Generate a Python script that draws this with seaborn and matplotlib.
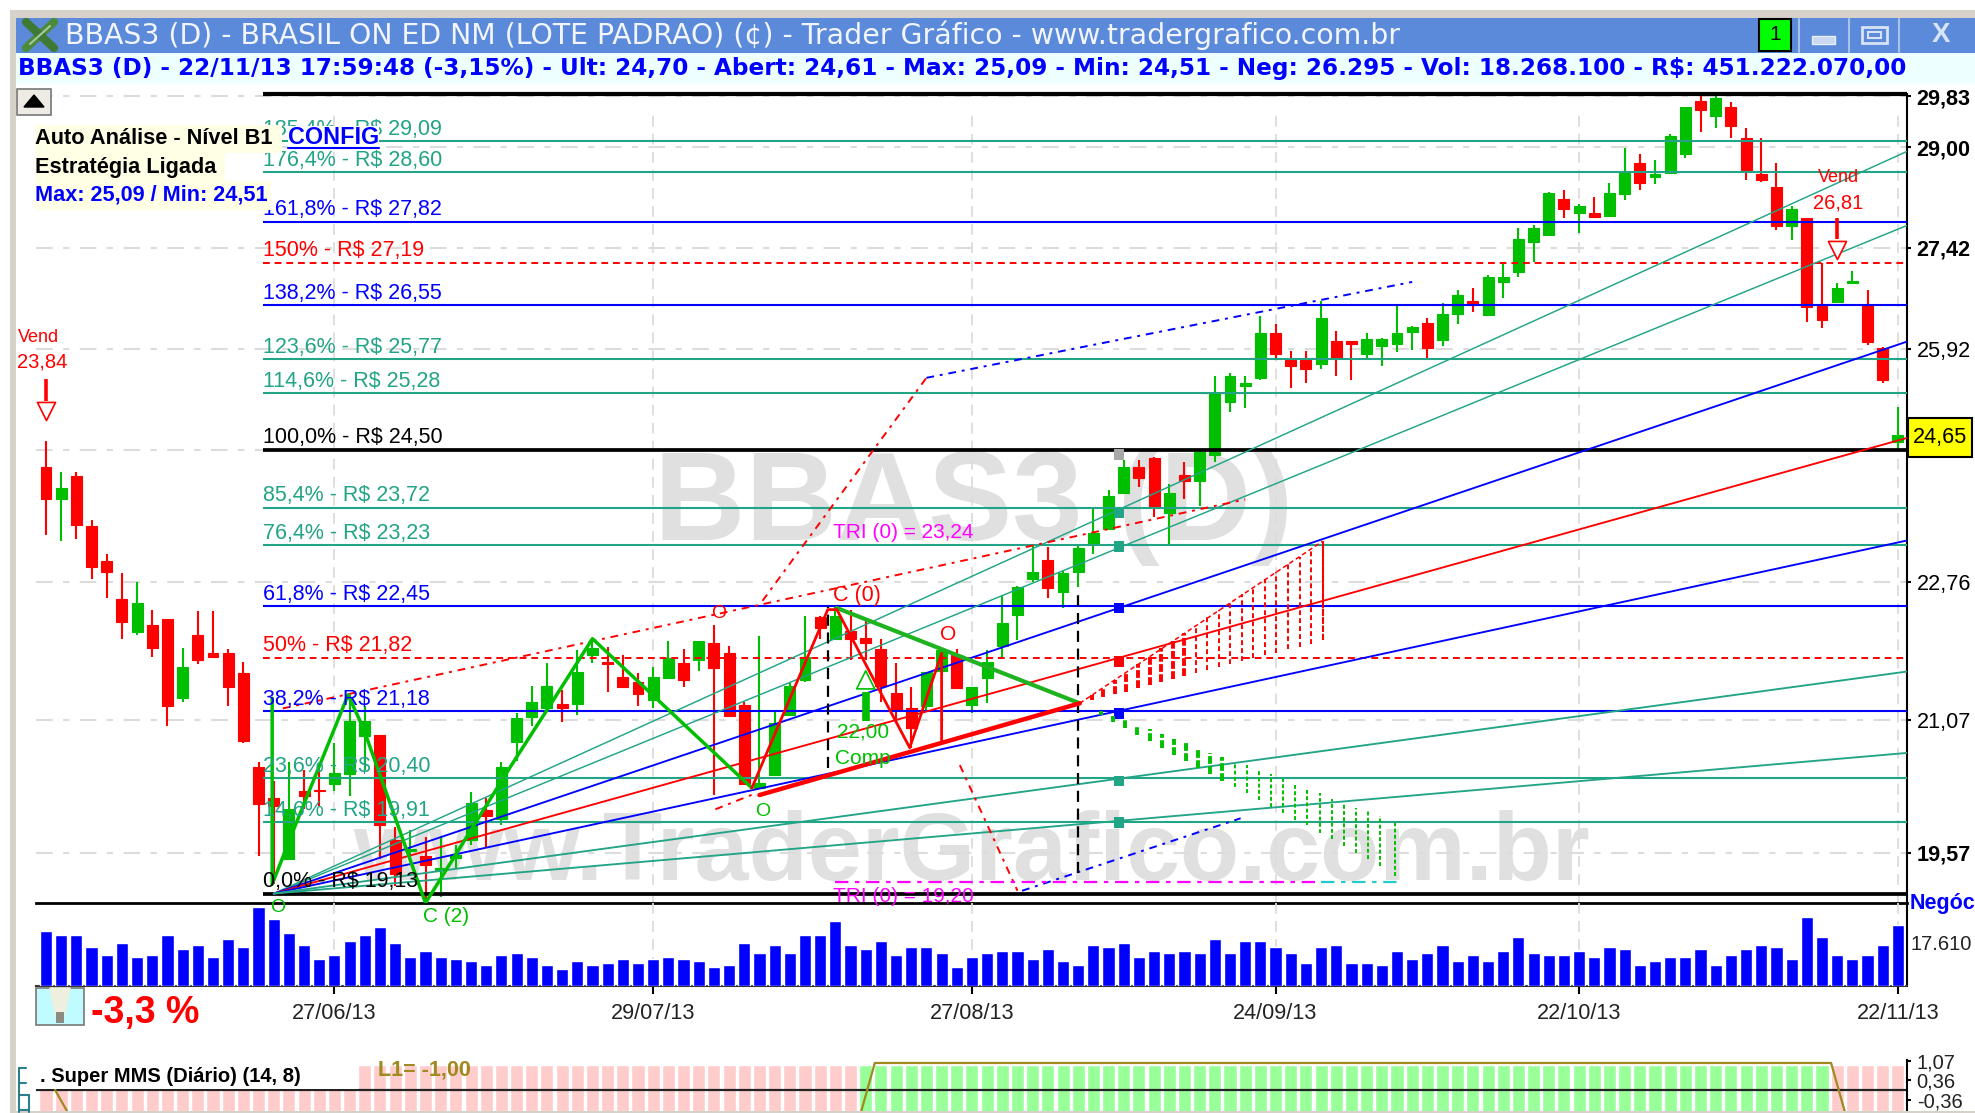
import seaborn as sns
import matplotlib.pyplot as plt
from matplotlib.patches import Rectangle
from matplotlib.ticker import NullLocator
from matplotlib.transforms import Affine2D

W, H = 1975, 1113

opens = [24.27, 23.83, 24.14, 23.48, 23.02, 22.54, 22.13, 22.22, 22.29, 21.33, 22.09, 21.87, 21.87, 21.63, 20.53, 20.18,
         19.50, 20.26, 20.27, 20.34, 20.45, 20.89, 20.90, 19.71, 19.59, 19.54, 19.38, 19.51, 19.71, 20.04, 19.94, 20.82,
         21.11, 21.21, 21.26, 21.26, 21.85, 21.77, 21.58, 21.53, 21.31, 21.57, 21.75, 21.79, 22.00, 21.87, 21.25, 20.29,
         20.44, 21.13, 21.55, 22.32, 22.05, 22.14, 22.06, 21.92, 21.39, 21.22, 21.24, 21.66, 21.85, 21.25, 21.57, 21.96,
         22.34, 22.79, 23.04, 22.63, 22.89, 23.25, 23.44, 23.91, 24.27, 24.39, 23.65, 24.16, 24.07, 24.42, 25.16, 25.38,
         25.50, 26.15, 25.76, 25.76, 25.70, 26.03, 26.03, 25.84, 25.96, 25.99, 26.16, 26.29, 26.05, 26.43, 26.62, 26.41,
         26.90, 27.05, 27.50, 27.61, 28.18, 27.95, 27.95, 27.90, 28.25, 28.74, 28.52, 28.58, 28.89, 29.76, 29.50, 29.65,
         29.15, 28.57, 28.36, 27.75, 27.87, 26.54, 26.60, 26.88, 26.54, 25.93, 24.61]
highs = [24.62, 24.19, 24.19, 23.56, 23.12, 22.87, 22.76, 22.41, 22.29, 21.94, 22.39, 22.39, 21.92, 21.77, 20.58, 20.37,
         20.58, 20.49, 20.50, 20.81, 21.37, 21.24, 20.90, 19.85, 19.82, 19.74, 19.75, 19.66, 20.24, 20.18, 20.58, 21.15,
         21.48, 21.75, 21.43, 21.91, 22.05, 21.95, 21.85, 21.63, 21.70, 22.02, 21.92, 22.02, 22.22, 21.96, 21.29, 22.08,
         21.19, 21.51, 22.33, 22.33, 22.45, 22.40, 22.28, 22.05, 21.75, 21.47, 21.65, 21.93, 21.92, 21.47, 21.91, 22.58,
         22.71, 23.22, 23.21, 22.90, 23.22, 23.70, 23.95, 24.36, 24.36, 24.40, 24.03, 24.33, 24.50, 25.52, 25.57, 25.52,
         26.40, 26.28, 25.89, 25.89, 26.62, 26.18, 26.03, 26.15, 26.07, 26.54, 26.25, 26.37, 26.59, 26.78, 26.81, 27.01,
         27.19, 27.72, 27.76, 28.28, 28.31, 28.09, 28.20, 28.42, 28.98, 28.89, 28.79, 29.21, 29.66, 29.83, 29.83, 29.73,
         29.31, 29.15, 28.74, 28.07, 27.87, 27.19, 26.88, 27.06, 26.78, 25.94, 25.09]
lows = [23.36, 23.28, 23.31, 22.80, 22.55, 22.05, 22.09, 21.83, 21.00, 21.28, 21.74, 21.83, 21.24, 20.81, 19.54, 19.23,
        19.49, 20.05, 20.09, 20.26, 20.20, 20.49, 19.50, 19.21, 19.50, 19.07, 19.09, 19.41, 19.65, 19.63, 19.87, 20.60,
        21.00, 21.19, 21.05, 21.13, 21.75, 21.41, 21.47, 21.24, 21.21, 21.56, 21.47, 21.66, 20.21, 21.12, 20.33, 20.29,
        20.44, 21.13, 21.53, 22.05, 22.03, 21.79, 21.79, 21.29, 21.04, 20.75, 21.18, 21.65, 21.45, 21.15, 21.27, 21.81,
        22.03, 22.76, 22.55, 22.43, 22.70, 23.12, 23.43, 23.91, 23.99, 23.60, 23.25, 23.83, 23.74, 24.33, 25.02, 25.08,
        25.47, 25.79, 25.36, 25.42, 25.62, 25.53, 25.47, 25.79, 25.67, 25.87, 25.90, 25.79, 25.96, 26.28, 26.46, 26.40,
        26.66, 26.98, 27.20, 27.60, 27.87, 27.64, 27.89, 27.89, 28.15, 28.31, 28.41, 28.58, 28.82, 29.24, 29.31, 29.15,
        28.47, 28.44, 27.69, 27.53, 26.30, 26.22, 26.60, 26.87, 25.97, 25.42, 24.51]
closes = [23.83, 23.98, 23.49, 22.95, 22.88, 22.25, 22.49, 21.93, 21.24, 21.70, 21.79, 21.83, 21.47, 20.83, 20.11, 20.09,
          20.05, 20.20, 20.25, 20.46, 21.06, 21.06, 19.87, 19.34, 19.61, 19.44, 19.41, 19.55, 20.12, 19.98, 20.53, 21.10,
          21.29, 21.48, 21.21, 21.65, 21.93, 21.74, 21.47, 21.38, 21.58, 21.82, 21.55, 22.02, 21.69, 21.12, 20.33, 20.35,
          21.04, 21.48, 21.83, 22.18, 22.33, 22.05, 22.00, 21.48, 21.19, 20.98, 21.64, 21.91, 21.45, 21.46, 21.77, 22.24,
          22.70, 22.89, 22.68, 22.87, 23.19, 23.39, 23.87, 24.27, 24.12, 23.73, 23.92, 24.07, 24.47, 25.28, 25.52, 25.43,
          26.15, 25.84, 25.67, 25.62, 26.37, 25.79, 25.99, 26.06, 26.06, 26.15, 26.24, 25.93, 26.43, 26.71, 26.56, 26.98,
          26.98, 27.55, 27.72, 28.26, 28.01, 28.07, 27.89, 28.26, 28.58, 28.43, 28.57, 29.18, 29.65, 29.60, 29.81, 29.34,
          28.63, 28.47, 27.75, 28.01, 26.52, 26.34, 26.81, 26.91, 26.02, 25.47, 24.70]
negocios = [23710, 21990, 21990, 16960, 13360, 18680, 12650, 13360, 21990, 15950, 17680, 12650, 20260, 16960, 34200,
            28880, 22990, 17680, 11640, 13360, 19540, 21990, 25580, 18680, 12650, 15090, 12650, 11640, 10920, 9050,
            13360, 14370, 12650, 9050, 7330, 10920, 9050, 10060, 11640, 10060, 11640, 12650, 11640, 10920, 8330, 9050,
            18680, 14370, 17820, 14370, 22130, 22130, 28170, 17820, 15950, 19540, 13360, 16960, 16960, 14370, 8330,
            12650, 14370, 15230, 15230, 11640, 15950, 10920, 9050, 17820, 16960, 18680, 12650, 15230, 14370, 15230,
            14370, 20260, 14370, 19540, 19540, 16960, 14370, 10060, 16960, 17680, 10060, 10060, 9050, 15230, 11640,
            14370, 17680, 10920, 13360, 10920, 15230, 21270, 14370, 13360, 13360, 15230, 12650, 16960, 15950, 9050,
            10920, 12650, 12650, 15950, 9050, 13360, 15950, 17680, 16960, 11640, 29890, 21270, 13360, 11640, 13360,
            17680, 26295]
bar_index = list(range(len(closes)))

date_index = [19, 40, 61, 81, 101, 122]
date_labels = ['27/06/13', '29/07/13', '27/08/13', '24/09/13', '22/10/13', '22/11/13']
axis_prices = [29.83, 29.00, 27.42, 25.92, 22.76, 21.07, 19.57]
axis_labels = ['29,83', '29,00', '27,42', '25,92', '22,76', '21,07', '19,57']
axis_bold = [True, True, True, False, False, False, True]

level_prices = [29.09, 28.60, 27.82, 27.19, 26.55, 25.77, 25.28, 24.50, 23.72, 23.23, 22.45, 21.82, 21.18, 20.40, 19.91, 19.13]
level_pcts = ['185,4%', '176,4%', '161,8%', '150%', '138,2%', '123,6%', '114,6%', '100,0%', '85,4%', '76,4%', '61,8%',
              '50%', '38,2%', '23,6%', '14,6%', '0,0%']
level_kinds = ['t', 't', 'b', 'r', 'b', 't', 't', 'k', 't', 't', 'b', 'r', 'b', 't', 't', 'k']

fan_ends = [28.93, 27.76, 26.02, 24.66, 23.29, 21.65, 20.69]
fan_kinds = ['t', 't', 'b', 'r', 'b', 't', 't']
marker_prices = [24.43, 23.66, 23.21, 22.43, 21.77, 21.15, 20.37, 19.90]
marker_kinds = ['g', 't', 't', 'b', 'r', 'b', 't', 't']

zig_x = [14.9, 14.9, 16.3, 19.9, 20.9, 25.0, 30.7, 33.0, 36.0, 46.5]
zig_y = [21.33, 19.23, 19.82, 21.37, 20.98, 19.03, 20.56, 21.19, 22.05, 20.29]
zag_x = [46.5, 51.5, 52.1, 56.9, 59.0, 59.0]
zag_y = [20.29, 22.41, 22.41, 20.75, 21.87, 20.81]
target_x = [52.1, 68.1]
target_y = [22.43, 21.27]
support_x = [47.0, 68.1]
support_y = [20.21, 21.27]

channel_x = [15.6, 79.0]
channel_y = [21.21, 23.83]
tri_up_x = [47.2, 58.0]
tri_up_y = [22.52, 25.50]
tri_blue_x = [58.0, 90.0]
tri_blue_y = [25.50, 26.90]
tri_down_x = [60.2, 64.0]
tri_down_y = [20.55, 19.16]
tri_low_x = [64.3, 78.7]
tri_low_y = [19.16, 19.95]
tri_tail_x = [44.1, 46.6]
tri_tail_y = [20.05, 20.22]
tri_level_x = [52.0, 84.0]
tri_level_y = [19.25, 19.25]
tri_end_x = [84.0, 89.1]

red_cone_x = [68.9, 69.66, 70.42, 71.18, 71.94, 72.7, 73.46, 74.22, 74.98, 75.74, 76.5, 77.26, 78.02, 78.78, 79.54,
              80.3, 81.06, 81.82, 82.58, 83.34, 84.1]
red_cone_top = [21.37, 21.46, 21.55, 21.64, 21.74, 21.83, 21.93, 22.02, 22.12, 22.22, 22.32, 22.40, 22.50, 22.60, 22.69,
                22.79, 22.89, 22.99, 23.08, 23.18, 23.28]
red_cone_low = [21.31, 21.34, 21.38, 21.41, 21.45, 21.49, 21.52, 21.56, 21.60, 21.63, 21.67, 21.71, 21.74, 21.78, 21.81,
                21.85, 21.88, 21.92, 21.95, 21.99, 22.03]
green_cone_x = [69.5, 70.3, 71.1, 71.9, 72.7, 73.5, 74.3, 75.1, 75.9, 76.7, 77.5, 78.3, 79.1, 79.9, 80.7, 81.5, 82.3,
                83.1, 83.9, 84.7, 85.5, 86.3, 87.1, 87.9, 88.9]
green_cone_top = [21.18, 21.12, 21.07, 21.02, 20.97, 20.91, 20.85, 20.81, 20.75, 20.69, 20.64, 20.59, 20.55, 20.49, 20.45,
                  20.39, 20.33, 20.29, 20.23, 20.17, 20.12, 20.07, 20.03, 19.97, 19.90]
green_cone_low = [21.13, 21.05, 20.98, 20.90, 20.83, 20.75, 20.67, 20.60, 20.52, 20.45, 20.37, 20.30, 20.23, 20.15, 20.08,
                  20.01, 19.93, 19.87, 19.79, 19.72, 19.64, 19.57, 19.50, 19.43, 19.32]

mms = [0] + [-1] * 53 + [1] * 64 + [-1] * 5

RED = '#FF0000'
GREEN = '#00BF00'
BLUE = '#0000FF'
TEAL = '#22A487'
kind_color = {'t': TEAL, 'b': BLUE, 'r': RED, 'k': 'black', 'g': '#A8A8A8'}

sns.set_theme(style='white')
plt.rcParams['font.family'] = ['Liberation Sans', 'DejaVu Sans']
plt.rcParams['axes.linewidth'] = 1.5

fig = plt.figure(figsize=(W / 100, H / 100), dpi=100, facecolor='white')
# chrome is placed in screen pixels with y going down
screen = Affine2D().scale(1, -1).translate(0, H)


def box(x0, y0, x1, y1, color, edge='none', lw=0, zorder=1):
    fig.add_artist(Rectangle((x0, y0), x1 - x0, y1 - y0, transform=screen, facecolor=color,
                             edgecolor=edge, linewidth=lw, zorder=zorder))


def label(x, y, s, color='black', size=15, zorder=20, **kw):
    kw.setdefault('va', 'center')
    kw.setdefault('ha', 'left')
    fig.text(x, y, s, transform=screen, color=color, fontsize=size, zorder=zorder, **kw)


def line(xs, ys, color, lw, zorder=21, **kw):
    fig.add_artist(plt.Line2D(xs, ys, transform=screen, color=color, linewidth=lw, zorder=zorder, **kw))


def pixel_axes(left, top, right, bottom):
    a = fig.add_axes([left / W, 1 - bottom / H, (right - left) / W, (bottom - top) / H])
    a.patch.set_visible(False)
    a.set_xlim(-0.66, 122.6)
    return a


# window frame and header bars
box(10, 10, W, 18, '#D6D2CA')
box(10, 10, 16, H, '#D6D2CA')
box(16, 18, W, 53, '#5B8ADB')
box(16, 53, W, 84, '#EEFFFF')
box(10, 1111, W, H, '#D6D2CA')
label(65, 35, 'BBAS3 (D) - BRASIL ON ED NM (LOTE PADRAO) (¢) - Trader Gráfico - www.tradergrafico.com.br',
      color='#F2F5FB', size=20.45, family='DejaVu Sans')
label(18, 68, 'BBAS3 (D) - 22/11/13 17:59:48 (-3,15%) - Ult: 24,70 - Abert: 24,61 - Max: 25,09 - Min: 24,51 - '
      'Neg: 26.295 - Vol: 18.268.100 - R$: 451.222.070,00', color=BLUE, size=16.67, weight='bold', family='DejaVu Sans')
line([26, 54], [48, 22], '#4C8A3C', 6)
line([26, 54], [22, 48], '#3E7A34', 6)
line([30, 50], [44, 26], '#A8C8A0', 1.5)
box(1759, 19, 1791, 51, '#00FF00', edge='black', lw=1.5, zorder=21)
label(1775, 34, '1', size=15, ha='center', zorder=22)
for xd in [1799, 1849, 1899]:
    line([xd, xd], [19, 52], '#A9C2EC', 1.5)
box(1812, 36, 1835, 44, '#C9D8F2', edge='#EAF0FB', lw=1, zorder=21)
box(1862, 27, 1887, 43, 'none', edge='#D8E3F6', lw=2, zorder=21)
box(1868, 32, 1881, 38, 'none', edge='#D8E3F6', lw=1.5, zorder=21)
label(1941, 35, 'X', color='#D8E3F6', size=20, ha='center', weight='bold')

# watermarks stay behind all the axes
label(654, 507, 'BBAS3 (D)', color='#E0E0E0', size=91, weight='bold', zorder=-1)
label(353, 855, 'www.TraderGrafico.com.br', color='#E0E0E0', size=69.8, weight='bold', zorder=-1)

# price panel
ax = pixel_axes(36, 94, 1907, 903)
ax.set_yscale('log')
ax.set_ylim(19.03, 29.87)
ax.set_xlim(-0.66, 122.6)
for side in ['top', 'left']:
    ax.spines[side].set_visible(False)
ax.spines['right'].set_color('black')
ax.spines['bottom'].set_color('black')
ax.spines['bottom'].set_linewidth(2)
ax.yaxis.tick_right()
ax.set_yticks(axis_prices, axis_labels)
ax.yaxis.set_minor_locator(NullLocator())
ax.tick_params(axis='y', length=3, width=1.5, color='black', pad=4, right=True)
ax.set_xticks([])
for tick, bold in zip(ax.get_yticklabels(), axis_bold):
    tick.set_fontsize(15.6)
    tick.set_fontweight('bold' if bold else 'normal')
    tick.set_color('black')

grid_dash = (0, (8, 5, 3, 5))
ax.hlines(axis_prices + [24.50], -0.66, 122.6, color='#DCDCDC', lw=1.5, linestyles=[grid_dash], zorder=1)
ax.vlines(date_index, 19.03, 29.55, color='#DCDCDC', lw=1.3, linestyles=[(0, (6, 4))], zorder=1)

# fibonacci levels
lvl_left = 14.3
ax.hlines(29.87, lvl_left, 122.6, color='black', lw=3, zorder=3, clip_on=False)
for price, pct, kind in zip(level_prices, level_pcts, level_kinds):
    c = kind_color[kind]
    if kind == 'r':
        ax.hlines(price, lvl_left, 122.6, color=c, lw=1.4, linestyles=[(0, (3.5, 2.5))], zorder=3)
    elif kind == 'k':
        ax.hlines(price, lvl_left, 122.6, color=c, lw=2.7, zorder=3)
    else:
        ax.hlines(price, lvl_left, 122.6, color=c, lw=1.5, zorder=3)
    ax.annotate('%s - R$ %s' % (pct, ('%.2f' % price).replace('.', ',')), (lvl_left, price), xytext=(0, 4.5),
                textcoords='offset points', color=c, fontsize=15.5, va='baseline', zorder=7)

# candles
colors = [GREEN if c > o else RED for o, c in zip(opens, closes)]
ax.vlines(bar_index, lows, highs, color=colors, lw=1.5, zorder=2)
bottoms = [min(o, c) for o, c in zip(opens, closes)]
heights = [abs(c - o) for o, c in zip(opens, closes)]
ax.bar(bar_index, heights, bottom=bottoms, width=0.72, color=colors, edgecolor=colors, linewidth=0.8, zorder=2)

# fan from the 0% corner
for end, kind, thin in zip(fan_ends, fan_kinds, [True, True, False, False, False, False, False]):
    sns.lineplot(x=[15, 122.6], y=[19.13, end], color=kind_color[kind], lw=1.05 if thin else 1.35, ax=ax,
                 estimator=None, sort=False, zorder=4)
ax.scatter([70.7] * len(marker_prices), marker_prices, marker='s', s=58, linewidths=0,
           color=[kind_color[k] for k in marker_kinds], zorder=5)

# dashed red and blue triangle guides
red_dash = (0, (4, 3, 1.5, 3))
for xs, ys, c in [(channel_x, channel_y, RED), (tri_up_x, tri_up_y, RED), (tri_down_x, tri_down_y, RED),
                  (tri_tail_x, tri_tail_y, RED), (tri_blue_x, tri_blue_y, BLUE), (tri_low_x, tri_low_y, BLUE)]:
    ax.plot(xs, ys, color=c, lw=1.4, ls=red_dash, zorder=4)
ax.plot(tri_level_x, tri_level_y, color='#FF00FF', lw=1.6, ls=(0, (6, 3, 2, 3)), zorder=4)
ax.plot(tri_end_x, tri_level_y, color='#22CCCC', lw=1.6, ls=(0, (6, 3, 2, 3)), zorder=4)
ax.vlines(51.5, 20.52, 22.45, color='black', lw=1.6, linestyles=[(0, (5, 3))], zorder=5)
ax.vlines(68, 19.35, 22.62, color='black', lw=1.6, linestyles=[(0, (5, 3))], zorder=5)

# projection cones
ax.vlines(red_cone_x[:9], red_cone_low[:9], red_cone_top[:9], color=RED, lw=2.8, linestyles=[(0, (2, 0.6))], zorder=5)
ax.vlines(red_cone_x[9:], red_cone_low[9:], red_cone_top[9:], color=RED, lw=1.4, linestyles=[(0, (2.5, 1.6))], zorder=5)
ax.plot([68.1, 84.1], [21.27, 23.28], color=RED, lw=1.1, ls=(0, (3, 2)), zorder=5)
ax.plot([84.1, 84.1], [22.03, 23.28], color=RED, lw=1.5, ls=(0, (3, 1)), zorder=5)
ax.vlines(green_cone_x[:11], green_cone_low[:11], green_cone_top[:11], color=GREEN, lw=2.8, linestyles=[(0, (2, 0.6))], zorder=5)
ax.vlines(green_cone_x[11:], green_cone_low[11:], green_cone_top[11:], color=GREEN, lw=1.4, linestyles=[(0, (2, 1.2))], zorder=5)

# zigzags
sns.lineplot(x=zig_x, y=zig_y, color=GREEN, lw=2.5, ax=ax, estimator=None, sort=False, zorder=6)
sns.lineplot(x=target_x, y=target_y, color='#1FB31F', lw=3, ax=ax, estimator=None, sort=False, zorder=6)
sns.lineplot(x=zag_x, y=zag_y, color=RED, lw=2, ax=ax, estimator=None, sort=False, zorder=6)
sns.lineplot(x=support_x, y=support_y, color=RED, lw=3.2, ax=ax, estimator=None, sort=False, zorder=6)
ax.set_xlim(-0.66, 122.6)
ax.set_ylim(19.03, 29.87)
ax.set_xlabel('')
ax.set_ylabel('')

# buy and sell arrows
ax.vlines(0, 25.17, 25.49, color=RED, lw=2.6, zorder=6)
ax.scatter([0], [25.03], marker='v', s=170, facecolor='white', edgecolor=RED, linewidths=1.2, zorder=6)
ax.vlines(118, 27.55, 27.87, color=RED, lw=2.6, zorder=6)
ax.scatter([118], [27.39], marker='v', s=170, facecolor='white', edgecolor=RED, linewidths=1.2, zorder=6)
ax.vlines(54, 21.06, 21.40, color=GREEN, lw=5.5, zorder=6)
ax.scatter([54], [21.55], marker='^', s=170, facecolor='none', edgecolor=GREEN, linewidths=1.2, zorder=6)

# labels on the price panel
label(18, 338, 'Vend', RED, 13)
label(17, 362, '23,84', RED, 14.5)
label(1838, 178, 'Vend', RED, 13, ha='center')
label(1838, 203, '26,81', RED, 14.5, ha='center')
label(833, 532, 'TRI (0) = 23,24', '#FF00FF', 15)
label(833, 897, 'TRI (0) = 19,20', '#FF00FF', 15)
label(278, 907, 'O', GREEN, 14, ha='center')
label(446, 917, 'C (2)', GREEN, 15, ha='center')
label(857, 595, 'C (0)', RED, 15.5, ha='center')
label(719, 613, 'O', RED, 14, ha='center')
label(763, 811, 'O', GREEN, 14, ha='center')
label(948, 634, 'O', RED, 15, ha='center')
label(863, 732, '22,00', GREEN, 15, ha='center')
label(863, 758, 'Comp', GREEN, 15, ha='center')

# auto analysis box and button
box(35, 125, 282, 153, '#FFFFE6', zorder=9)
box(35, 153, 225, 181, '#FFFFE6', zorder=9)
box(35, 181, 271, 210, '#FFFFE6', zorder=9)
label(35, 139, 'Auto Análise - Nível B1', size=15.7, weight='bold')
label(35, 167, 'Estratégia Ligada', size=15.7, weight='bold')
label(35, 195, 'Max: 25,09 / Min: 24,51', BLUE, 15.6, weight='bold')
box(288, 126, 379, 149, 'white', zorder=9)
label(288, 137, 'CONFIG', BLUE, 16.8, weight='bold')
line([288, 379], [148, 148], BLUE, 1.5)
box(17, 89, 51, 115, '#EDEBE4', edge='#777777', lw=1.2, zorder=9)
tri_x = [24, 44, 34, 24]
tri_y = [107, 107, 95, 107]
fig.add_artist(plt.Polygon(list(zip(tri_x, tri_y)), transform=screen, color='black', zorder=21))

# price flag
box(1908, 418, 1972, 457, '#FFFF00', edge='black', lw=1.5, zorder=21)
label(1940, 437, '24,65', size=15.6, ha='center', zorder=22)

# trade count panel
ax_vol = pixel_axes(36, 903, 1907, 986)
sns.barplot(x=bar_index, y=negocios, native_scale=True, width=0.8, color=BLUE, saturation=1, ax=ax_vol, zorder=3)
ax_vol.set_xlim(-0.66, 122.6)
ax_vol.set_ylim(0, 35770)
for side in ['top', 'left']:
    ax_vol.spines[side].set_visible(False)
ax_vol.spines['right'].set_color('black')
ax_vol.spines['bottom'].set_color('#333333')
ax_vol.set_xticks(date_index, date_labels)
ax_vol.tick_params(axis='x', length=6, width=1.5, color='black', bottom=True, pad=6, labelsize=15.6, labelcolor='#222222')
ax_vol.set_yticks([])
ax_vol.set_ylabel('')
ax_vol.vlines(date_index, 0, 35770, color='#DCDCDC', lw=1.3, linestyles=[(0, (6, 4))], zorder=1)
label(1910, 904, 'Negóc', BLUE, 15.5, weight='bold')
label(1911, 944, '17.610', '#222222', 14.5)

# bulb icon and result
box(36, 988, 84, 1025, '#BFFBFF', edge='#777777', lw=1.2)
fig.add_artist(plt.Polygon([(50, 988), (70, 988), (66, 1008), (63, 1020), (57, 1020), (54, 1008)], transform=screen,
                           color='#EFEFE0', zorder=21))
box(56, 1012, 64, 1023, '#8B8B80', zorder=22)
label(91, 1013, '-3,3 %', RED, 27, weight='bold')

# super mms panel
ax_mms = pixel_axes(36, 1060, 1907, 1112)
ax_mms.set_ylim(-0.815, 1.11)
band_colors = ['#99FF99' if v > 0 else '#FFCCCC' for v in mms]
ax_mms.bar(bar_index, [1.741] * len(mms), bottom=-0.815, width=0.86, color=band_colors, zorder=1)
ax_mms.axhline(0, color='#222222', lw=1.6, zorder=2)
sns.lineplot(x=[i + 0.6 for i in bar_index], y=mms, color='#A08A20', lw=1.6, ax=ax_mms, estimator=None, sort=False, zorder=3)
ax_mms.set_xlim(-0.66, 122.6)
ax_mms.set_ylim(-0.815, 1.11)
ax_mms.set_xticks([])
ax_mms.set_ylabel('')
for side in ['top', 'left', 'bottom']:
    ax_mms.spines[side].set_visible(False)
ax_mms.spines['right'].set_color('black')
ax_mms.yaxis.tick_right()
ax_mms.set_yticks([1.07, 0.36, -0.36], ['1,07', '0,36', '-0,36'])
ax_mms.tick_params(axis='y', length=3, width=1.5, color='black', right=True, pad=4, labelsize=14.5, labelcolor='#222222')
box(36, 1060, 358, 1089, 'white', zorder=9)
label(40, 1077, '. Super MMS (Diário) (14, 8)', size=14.5, weight='bold')
label(378, 1070, 'L1= -1,00', '#A08A20', 15.5, weight='bold')
for sx, sy0, sy1 in [(19, 1068, 1112), (29, 1095, 1112)]:
    line([sx, sx], [sy0, sy1], '#2A7F8A', 1.5)
line([19, 29], [1095, 1095], '#2A7F8A', 1.5)
line([19, 29], [1110, 1110], '#2A7F8A', 1.5)
line([19, 26], [1068, 1068], '#2A7F8A', 1.5)
line([19, 26], [1083, 1083], '#2A7F8A', 1.5)

fig.savefig('out.png', dpi=100)
